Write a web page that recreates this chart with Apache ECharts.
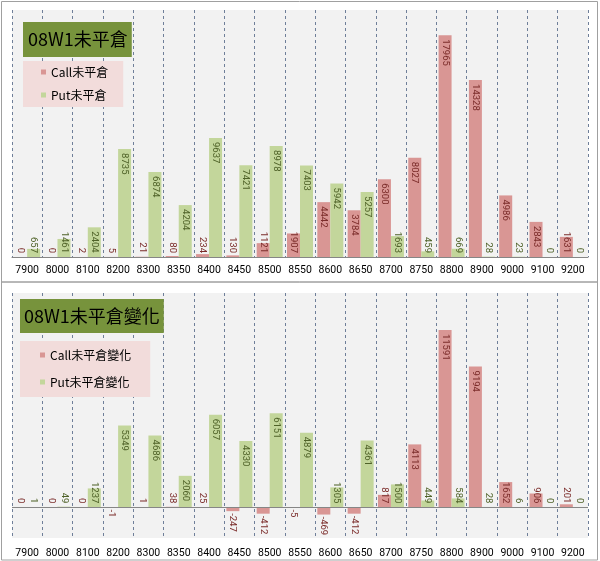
<!DOCTYPE html>
<html>
<head>
<meta charset="utf-8">
<script src="https://cdn.jsdelivr.net/npm/echarts@6/dist/echarts.min.js"></script>
<style>html,body{margin:0;padding:0;background:#fff}#c{width:600px;height:561px}</style>
</head>
<body>
<div id="c"></div>
<script>
const categories = ['7900','8000','8100','8200','8300','8350','8400','8450','8500','8550','8600','8650','8700','8750','8800','8900','9000','9100','9200'];
const callOI = [0, 0, 2, 5, 21, 80, 234, 130, 1121, 1907, 4442, 3784, 6300, 8027, 17965, 14328, 4986, 2843, 1631];
const putOI  = [657, 1461, 2404, 8735, 6874, 4204, 9637, 7421, 8978, 7403, 5942, 5257, 1693, 459, 669, 28, 23, 0, 0];
const callChg = [0, 0, 0, -1, 1, 38, 25, -247, -412, -5, -469, -412, 817, 4113, 11591, 9194, 1652, 906, 201];
const putChg  = [1, 49, 1237, 5349, 4686, 2060, 6057, 4330, 6151, 4879, 1305, 4361, 1500, 449, 584, 28, 6, 0, 0];
const topTitle = '08W1未平倉';
const bottomTitle = '08W1未平倉變化';
const topNames = ['Call未平倉', 'Put未平倉'];
const bottomNames = ['Call未平倉變化', 'Put未平倉變化'];

const CJK = "'Noto Sans CJK TC', 'Noto Sans', sans-serif";
const NUM = "Roboto, 'Liberation Sans', sans-serif";
const CALL = '#D99694', PUT = '#C3D69B';

function items(values, pxPerUnit) {
  return values.map(v => {
    const px = Math.abs(v) * pxPerUnit;
    const need = String(v).length * 5.3 + 8;
    let label;
    if (v < 0) label = {position: 'bottom', align: 'left', verticalAlign: 'middle', distance: 2};
    else if (px >= need) label = {position: 'insideTop', align: 'left', verticalAlign: 'middle', distance: 4};
    else label = {position: 'insideBottom', align: 'right', verticalAlign: 'middle', distance: 4};
    return {value: v, label: label};
  });
}

function barSeries(name, data, idx, color, labelColor, extra) {
  return Object.assign({
    name: name, type: 'bar', xAxisIndex: idx, yAxisIndex: idx,
    data: data, barWidth: 13, barGap: '0%',
    itemStyle: {color: color},
    label: {show: true, rotate: -90, fontSize: 9.5, fontFamily: NUM, color: labelColor}
  }, extra || {});
}

const xAxisBase = (gi, margin, lineShow) => ({
  type: 'category', gridIndex: gi, data: categories,
  axisTick: {show: false},
  axisLine: {show: lineShow, onZero: false, lineStyle: {color: '#868686', width: 1}},
  axisLabel: {interval: 0, margin: margin, fontSize: 10.5, fontFamily: NUM, color: '#000'},
  splitLine: {show: true, interval: 0, lineStyle: {color: '#6F7F99', type: [3, 3], width: 1}}
});

const chart = echarts.init(document.getElementById('c'));
chart.setOption({
  animation: false,
  backgroundColor: '#fff',
  title: [
    {text: topTitle, left: 23, top: 22, backgroundColor: '#77933C', padding: [8, 4, 9, 5],
     textStyle: {fontSize: 18, fontWeight: 'normal', color: '#000', fontFamily: CJK}},
    {text: bottomTitle, left: 20, top: 299, backgroundColor: '#77933C', padding: [8, 4, 8, 4],
     textStyle: {fontSize: 18, fontWeight: 'normal', color: '#000', fontFamily: CJK}}
  ],
  legend: [
    {data: topNames, orient: 'vertical', left: 23, top: 61, backgroundColor: '#F2DCDB',
     padding: [5, 15, 6, 18], itemWidth: 5, itemHeight: 5, itemGap: 11, icon: 'rect',
     textStyle: {fontSize: 12, color: '#000', fontFamily: CJK}},
    {data: bottomNames, orient: 'vertical', left: 20, top: 341, backgroundColor: '#F2DCDB',
     padding: [8, 19, 9, 20], itemWidth: 5, itemHeight: 5, itemGap: 15, icon: 'rect',
     textStyle: {fontSize: 12, color: '#000', fontFamily: CJK}}
  ],
  grid: [
    {left: 12, right: 12, top: 10, height: 247, show: true, backgroundColor: '#F2F2F2', borderWidth: 0},
    {left: 12, right: 12, top: 293, height: 245, show: true, backgroundColor: '#F2F2F2', borderWidth: 0}
  ],
  xAxis: [xAxisBase(0, 8, true), xAxisBase(1, 10, false)],
  yAxis: [
    {type: 'value', gridIndex: 0, min: 0, max: 20000, show: false, splitLine: {show: false}},
    {type: 'value', gridIndex: 1, min: -2000, max: 14000, show: false, splitLine: {show: false}}
  ],
  graphic: [
    {type: 'rect', silent: true, z: 100, shape: {x: 1.5, y: 1.5, width: 596, height: 280.5},
     style: {fill: 'none', stroke: '#A0A0A0', lineWidth: 1}},
    {type: 'rect', silent: true, z: 100, shape: {x: 1.5, y: 282, width: 596, height: 278},
     style: {fill: 'none', stroke: '#A0A0A0', lineWidth: 1}}
  ],
  series: [
    barSeries(topNames[0], items(callOI, 247 / 20000), 0, CALL, '#7B2C2A'),
    barSeries(topNames[1], items(putOI, 247 / 20000), 0, PUT, '#4F6228'),
    barSeries(bottomNames[0], items(callChg, 245 / 16000), 1, CALL, '#7B2C2A', {
      markLine: {silent: true, symbol: 'none', label: {show: false},
        lineStyle: {color: '#868686', type: 'solid', width: 1}, data: [{yAxis: 0}]}
    }),
    barSeries(bottomNames[1], items(putChg, 245 / 16000), 1, PUT, '#4F6228')
  ]
});
</script>
</body>
</html>
